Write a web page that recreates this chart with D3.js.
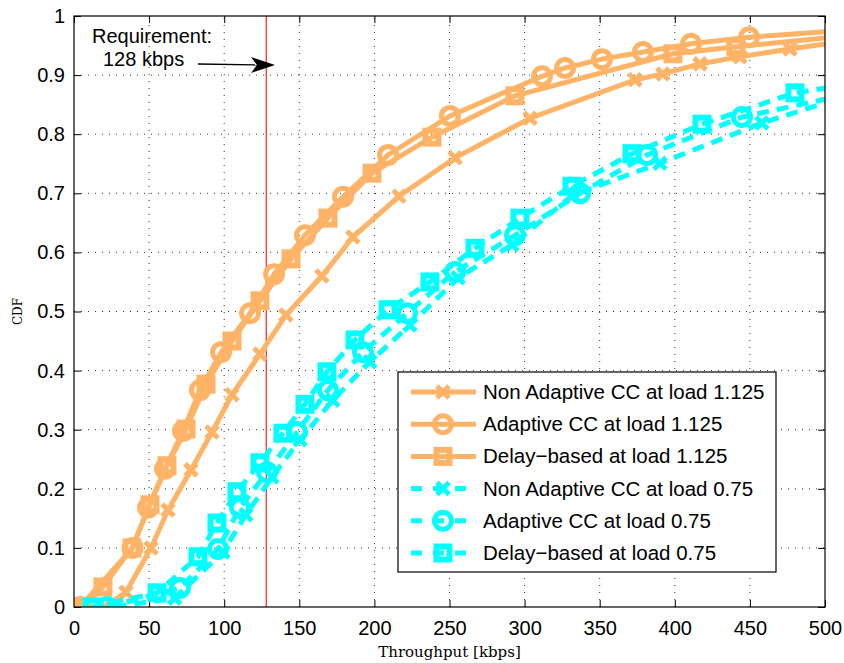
<!DOCTYPE html>
<html>
<head>
<meta charset="utf-8">
<script src="https://cdn.jsdelivr.net/npm/d3@7"></script>
<style>
  body { margin: 0; background: #fff; }
  text { font-family: "Liberation Sans", Arial, sans-serif; }
</style>
</head>
<body>
<svg id="chart" width="844" height="663"></svg>
<script>
// tick values
const xTicks = [0, 50, 100, 150, 200, 250, 300, 350, 400, 450, 500];
const yTicks = [0, 0.1, 0.2, 0.3, 0.4, 0.5, 0.6, 0.7, 0.8, 0.9, 1];
const requirement = 128;

// load 1.125 (orange)
const naHighX = [20, 34.6, 51.3, 62.6, 77.9, 91.9, 105.2, 123.8, 141.1, 165.1, 185.7, 216.4, 253.7, 303.6, 373.5, 392.1, 416.8, 443.4, 476.7, 520];
const naHighY = [0, 0.025, 0.1, 0.164, 0.232, 0.296, 0.359, 0.428, 0.494, 0.56, 0.626, 0.695, 0.76, 0.827, 0.892, 0.902, 0.919, 0.931, 0.944, 0.96];
const adHighX = [4, 39, 49.3, 60.6, 72.6, 83.9, 97.9, 117.2, 133.2, 153.8, 179.1, 209.1, 250.3, 311.6, 326.9, 351.5, 378.8, 410.8, 449.4, 520];
const adHighY = [0, 0.1, 0.168, 0.234, 0.298, 0.367, 0.431, 0.497, 0.563, 0.629, 0.694, 0.765, 0.831, 0.898, 0.912, 0.927, 0.939, 0.953, 0.964, 0.977];
const dbHighX = [6, 19.3, 38.6, 50.6, 61.9, 74.6, 87.9, 105.2, 123.8, 144.5, 169.1, 198.4, 238.3, 293.6, 398.8, 440.7, 520];
const dbHighY = [0, 0.034, 0.1, 0.173, 0.239, 0.301, 0.377, 0.45, 0.518, 0.589, 0.658, 0.734, 0.795, 0.865, 0.936, 0.948, 0.968];

// load 0.75 (cyan)
const naLowX = [27, 67, 99.2, 114.5, 131.8, 150.5, 172.4, 197, 223.7, 255.7, 291.6, 332.2, 390.1, 458, 520];
const naLowY = [0, 0.015, 0.093, 0.156, 0.22, 0.283, 0.35, 0.415, 0.477, 0.557, 0.613, 0.697, 0.751, 0.819, 0.869];
const adLowX = [22, 70.6, 95.9, 110.5, 128.5, 148.5, 169.1, 192.4, 221.7, 253.7, 293.6, 336.9, 381.5, 444.7, 520];
const adLowY = [0, 0.032, 0.098, 0.168, 0.228, 0.296, 0.367, 0.431, 0.497, 0.567, 0.629, 0.7, 0.765, 0.829, 0.87];
const dbLowX = [12, 55.3, 82.6, 95.2, 108.5, 123.8, 139.1, 153.8, 168.4, 187.1, 209.1, 237, 267, 296.9, 331.6, 371.5, 418.1, 480, 520];
const dbLowY = [0, 0.024, 0.085, 0.142, 0.195, 0.244, 0.294, 0.343, 0.398, 0.452, 0.503, 0.55, 0.607, 0.658, 0.712, 0.767, 0.817, 0.87, 0.886];

const seriesNames = [
  'Non Adaptive CC at load 1.125',
  'Adaptive CC at load 1.125',
  'Delay\u2212based at load 1.125',
  'Non Adaptive CC at load 0.75',
  'Adaptive CC at load 0.75',
  'Delay\u2212based at load 0.75'
];

const ORANGE = '#ffb366';
const CYAN = '#00ffff';

const series = [
  { name: seriesNames[0], xs: naHighX, ys: naHighY, color: ORANGE, dashed: false, marker: 'x' },
  { name: seriesNames[1], xs: adHighX, ys: adHighY, color: ORANGE, dashed: false, marker: 'o' },
  { name: seriesNames[2], xs: dbHighX, ys: dbHighY, color: ORANGE, dashed: false, marker: 's' },
  { name: seriesNames[3], xs: naLowX, ys: naLowY, color: CYAN, dashed: true, marker: 'x' },
  { name: seriesNames[4], xs: adLowX, ys: adLowY, color: CYAN, dashed: true, marker: 'o' },
  { name: seriesNames[5], xs: dbLowX, ys: dbLowY, color: CYAN, dashed: true, marker: 's' }
].map(s => ({ ...s, pts: s.xs.map((x, i) => ({ x, y: s.ys[i] })) }));

const margin = { left: 74, right: 19, top: 16, bottom: 56 };
const W = 844, H = 663;
const svg = d3.select('#chart');

const x = d3.scaleLinear().domain([0, 500]).range([margin.left, W - margin.right]);
const y = d3.scaleLinear().domain([0, 1]).range([H - margin.bottom, margin.top]);

svg.append('defs').append('clipPath').attr('id', 'plotclip')
  .append('rect')
  .attr('x', x(0)).attr('y', y(1))
  .attr('width', x(500) - x(0)).attr('height', y(0) - y(1));

// grid (dotted)
const grid = svg.append('g');
grid.selectAll('line.gx').data(xTicks.slice(1, -1)).join('line')
  .attr('x1', d => x(d)).attr('x2', d => x(d))
  .attr('y1', y(0)).attr('y2', y(1))
  .attr('stroke', '#333').attr('stroke-width', 1).attr('stroke-dasharray', '1,6');
grid.selectAll('line.gy').data(yTicks.slice(1, -1)).join('line')
  .attr('y1', d => y(d)).attr('y2', d => y(d))
  .attr('x1', x(0)).attr('x2', x(500))
  .attr('stroke', '#333').attr('stroke-width', 1).attr('stroke-dasharray', '1,6');

// axes with inward ticks on all four sides
const fmtY = d => d === 0 ? '0' : d === 1 ? '1' : d3.format('.1f')(d);
const axB = svg.append('g').attr('transform', `translate(0,${y(0)})`)
  .call(d3.axisBottom(x).tickValues(xTicks).tickSizeInner(-7).tickSizeOuter(0).tickPadding(14));
const axL = svg.append('g').attr('transform', `translate(${x(0)},0)`)
  .call(d3.axisLeft(y).tickValues(yTicks).tickFormat(fmtY).tickSizeInner(-7).tickSizeOuter(0).tickPadding(9));
const axT = svg.append('g').attr('transform', `translate(0,${y(1)})`)
  .call(d3.axisTop(x).tickValues(xTicks).tickSizeInner(-7).tickSizeOuter(0).tickFormat(''));
const axR = svg.append('g').attr('transform', `translate(${x(500)},0)`)
  .call(d3.axisRight(y).tickValues(yTicks).tickSizeInner(-7).tickSizeOuter(0).tickFormat(''));
[axB, axL, axT, axR].forEach(a => {
  a.select('.domain').remove();
  a.selectAll('line').attr('stroke', '#000');
  a.selectAll('text').attr('font-size', 20).attr('fill', '#000')
    .style('font-family', '"Liberation Sans", Arial, sans-serif');
});

// requirement line
svg.append('line')
  .attr('x1', x(requirement)).attr('x2', x(requirement))
  .attr('y1', y(0)).attr('y2', y(1))
  .attr('stroke', '#ff2020').attr('stroke-width', 1.2);

// markers
function drawMarker(g, type, color, cx, cy) {
  if (type === 'x') {
    g.append('path')
      .attr('d', `M${cx - 6},${cy - 6}L${cx + 6},${cy + 6}M${cx - 6},${cy + 6}L${cx + 6},${cy - 6}`)
      .attr('stroke', color).attr('stroke-width', 5).attr('fill', 'none');
  } else if (type === 'o') {
    g.append('circle').attr('cx', cx).attr('cy', cy).attr('r', 8.5)
      .attr('stroke', color).attr('stroke-width', 5).attr('fill', 'none');
  } else {
    g.append('rect').attr('x', cx - 6.5).attr('y', cy - 6.5).attr('width', 13).attr('height', 13)
      .attr('stroke', color).attr('stroke-width', 6).attr('fill', 'none');
  }
}

const line = d3.line().x(d => x(d.x)).y(d => y(d.y));
const plot = svg.append('g').attr('clip-path', 'url(#plotclip)');
series.forEach(s => {
  const g = plot.append('g');
  g.append('path').datum(s.pts)
    .attr('d', line)
    .attr('fill', 'none')
    .attr('stroke', s.color)
    .attr('stroke-width', 5)
    .attr('stroke-dasharray', s.dashed ? '12,8' : null);
  s.pts.forEach(p => drawMarker(g, s.marker, s.color, x(p.x), y(p.y)));
});

// axes box
svg.append('rect')
  .attr('x', x(0)).attr('y', y(1))
  .attr('width', x(500) - x(0)).attr('height', y(0) - y(1))
  .attr('fill', 'none').attr('stroke', '#000').attr('stroke-width', 1.2);

// axis labels
svg.append('text')
  .attr('x', (x(0) + x(500)) / 2).attr('y', 657)
  .attr('text-anchor', 'middle')
  .style('font-family', '"DejaVu Serif", serif').attr('font-size', 15)
  .text('Throughput [kbps]');
svg.append('text')
  .attr('transform', `translate(22,${(y(0) + y(1)) / 2}) rotate(-90)`)
  .attr('text-anchor', 'middle')
  .style('font-family', '"DejaVu Serif", serif').attr('font-size', 12)
  .text('CDF');

// annotation
svg.append('text').attr('x', 92).attr('y', 43).attr('font-size', 20).text('Requirement:');
svg.append('text').attr('x', 103).attr('y', 66).attr('font-size', 20).text('128 kbps');
svg.append('line').attr('x1', 198).attr('y1', 64).attr('x2', 262).attr('y2', 65)
  .attr('stroke', '#000').attr('stroke-width', 1.3);
svg.append('path')
  .attr('d', 'M275,65 L251,57 L257,65 L251,73 Z')
  .attr('fill', '#000');

// legend
const lg = svg.append('g');
lg.append('rect').attr('x', 398).attr('y', 372).attr('width', 378).attr('height', 200)
  .attr('fill', '#fff').attr('stroke', '#000').attr('stroke-width', 1.2);
series.forEach((s, i) => {
  const cy = 392 + i * 32.2;
  lg.append('line').attr('x1', 411).attr('x2', 476).attr('y1', cy).attr('y2', cy)
    .attr('stroke', s.color).attr('stroke-width', 5)
    .attr('stroke-dasharray', s.dashed ? '11,11' : null);
  drawMarker(lg, s.marker, s.color, 443, cy);
  lg.append('text').attr('x', 483).attr('y', cy + 7).attr('font-size', 20.5).text(s.name);
});
</script>
</body>
</html>
